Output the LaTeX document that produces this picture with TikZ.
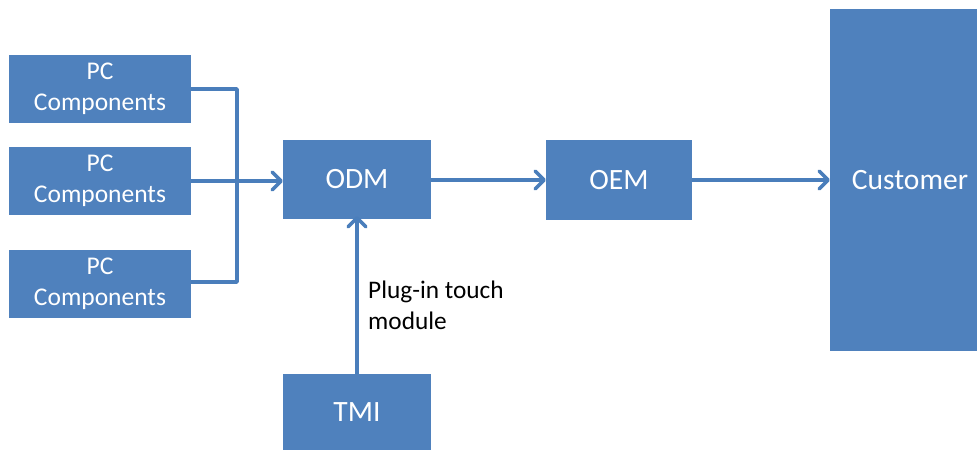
\documentclass[tikz,border=0pt]{standalone}
\usepackage{fontspec}
\setmainfont{Carlito}
\usetikzlibrary{arrows.meta}
\definecolor{boxblue}{HTML}{4F81BD}
\definecolor{lineblue}{HTML}{4A7EBB}
\begin{document}
\begin{tikzpicture}[x=1pt,y=-1pt,
  blk/.style={fill=boxblue, draw=none, text=white, inner sep=0pt, align=center,
    font=\fontsize{29.5}{35}\selectfont},
  pcblk/.style={blk, minimum width=182pt, minimum height=68pt,
    font=\fontsize{25.5}{31}\selectfont},
  conn/.style={draw=lineblue, line width=3.5pt, line join=round},
  arr/.style={conn, -{Straight Barb[length=9pt,width=18pt,line width=3.5pt,round]}},
  lbl/.style={font=\fontsize{25.3}{31}\selectfont, align=left, inner sep=0pt, text=black}]
\useasboundingbox (0,0) rectangle (977,451);
\node[pcblk] (pc1) at (100,89) {PC\\Components};
\node[pcblk] (pc2) at (100,181) {PC\\Components};
\node[pcblk] (pc3) at (100,284) {PC\\Components};
\node[blk, minimum width=148pt, minimum height=79pt] (odm) at (357,179.5) {ODM};
\node[blk, minimum width=146pt, minimum height=80pt] (oem) at (619,180) {OEM};
\node[blk, minimum width=148pt, minimum height=76pt] (tmi) at (357,412) {TMI};
\node[blk, minimum width=160pt, minimum height=342pt] (cust) at (910,180) {Customer};
\coordinate (j1) at (237,89);
\coordinate (j3) at (237,282);
\draw[conn] (pc1.east |- j1) -- (j1) -- (j3) -- (pc3.east |- j3);
\draw[arr] (pc2.east) -- (pc2.east -| odm.west);
\draw[arr] (odm.east |- oem.west) -- (oem.west);
\draw[arr] (oem.east) -- (oem.east -| cust.west);
\draw[arr] (tmi.north) -- ([yshift=3pt]odm.south);
\node[lbl, anchor=base west] (plug) at (368,329) {Plug-in touch\\module};
\end{tikzpicture}
\end{document}
